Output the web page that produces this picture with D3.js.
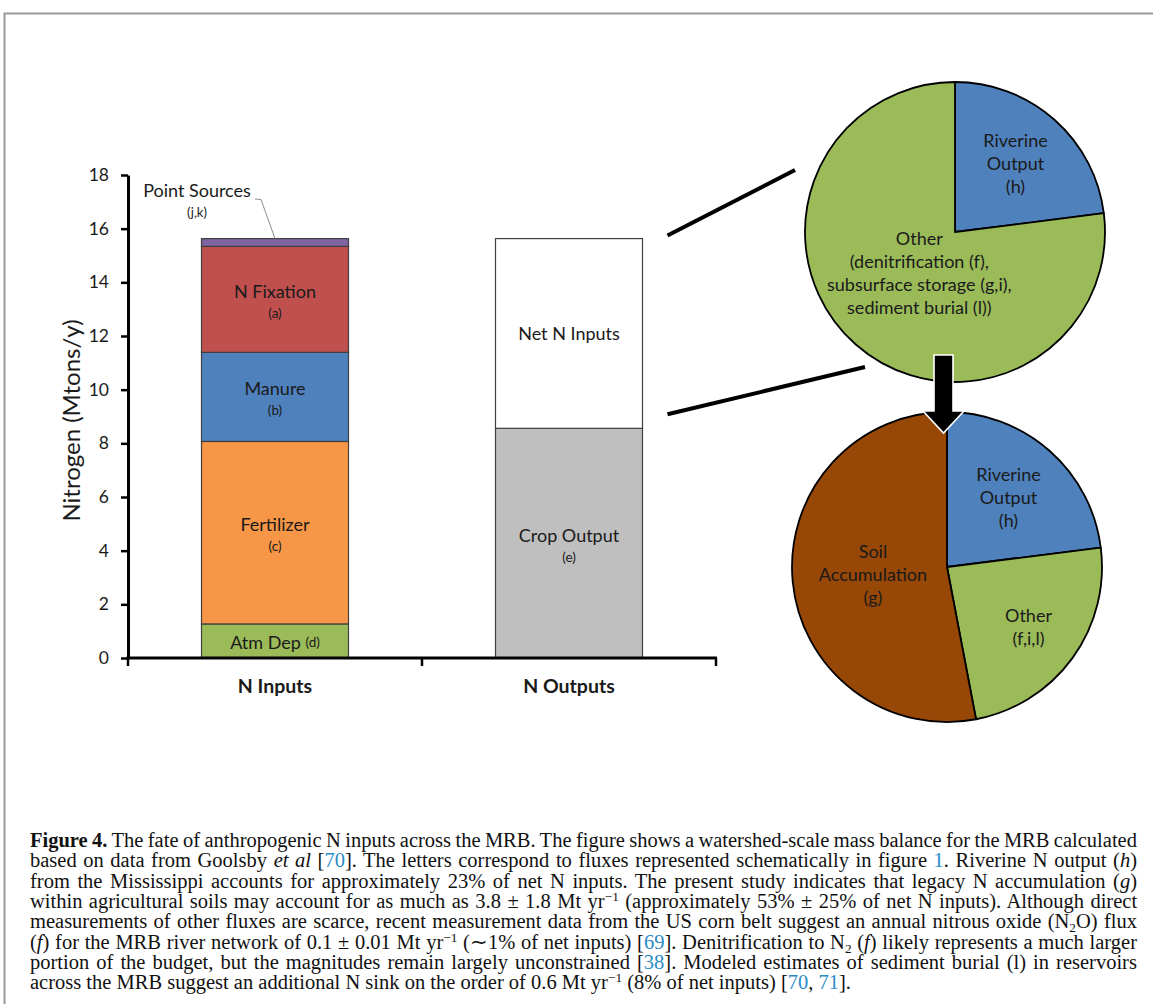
<!DOCTYPE html>
<html>
<head>
<meta charset="utf-8">
<script src="https://cdn.jsdelivr.net/npm/d3@7"></script>
<style>
  body { margin: 0; background: #fff; }
  svg { display: block; }
</style>
</head>
<body>
<svg id="chart" width="1153" height="1004"></svg>
<script>
// ---- data ----
const barCategories = ["N Inputs", "N Outputs"];
const inputNames = ["Atm Dep", "Fertilizer", "Manure", "N Fixation", "Point Sources"];
const inputTags = ["(d)", "(c)", "(b)", "(a)", "(j,k)"];
const inputValues = [1.27, 6.8, 3.32, 3.95, 0.29];
const outputNames = ["Crop Output", "Net N Inputs"];
const outputTags = ["(e)", ""];
const outputValues = [8.56, 7.07];
const yTicks = [0, 2, 4, 6, 8, 10, 12, 14, 16, 18];

const pieTopLabels = [["Riverine", "Output", "(h)"],
                      ["Other", "(denitrification (f),", "subsurface storage (g,i),", "sediment burial (l))"]];
const pieTopValues = [23, 77];
const pieBottomLabels = [["Riverine", "Output", "(h)"], ["Other", "(f,i,l)"], ["Soil", "Accumulation", "(g)"]];
const pieBottomValues = [23, 24, 53];

const caption = [
  "**Figure 4.** The fate of anthropogenic N inputs across the MRB. The figure shows a watershed-scale mass balance for the MRB calculated",
  "based on data from Goolsby *et al* [{70}]. The letters correspond to fluxes represented schematically in figure {1}. Riverine N output (*h*)",
  "from the Mississippi accounts for approximately 23% of net N inputs. The present study indicates that legacy N accumulation (*g*)",
  "within agricultural soils may account for as much as 3.8 \u00b1 1.8 Mt yr^\u22121^ (approximately 53% \u00b1 25% of net N inputs). Although direct",
  "measurements of other fluxes are scarce, recent measurement data from the US corn belt suggest an annual nitrous oxide (N_2_O) flux",
  "(*f*) for the MRB river network of 0.1 \u00b1 0.01 Mt yr^\u22121^ (\u223c1% of net inputs) [{69}]. Denitrification to N_2_ (*f*) likely represents a much larger",
  "portion of the budget, but the magnitudes remain largely unconstrained [{38}]. Modeled estimates of sediment burial (l) in reservoirs",
  "across the MRB suggest an additional N sink on the order of 0.6 Mt yr^\u22121^ (8% of net inputs) [{70}, {71}]."
];

// ---- colours ----
const inputColors = ["#9bbb59", "#f79646", "#4f81bd", "#c0504d", "#8064a2"];
const outputColors = ["#bfbfbf", "#ffffff"];
const pieTopColors = ["#4f81bd", "#9bbb59"];
const pieBottomColors = ["#4f81bd", "#9bbb59", "#974706"];

const svg = d3.select("#chart");
const sans = "Lato, 'Open Sans', sans-serif";
const ink = "#1a1a1a";

// frame of the page
svg.append("path")
  .attr("d", "M4.5,1004 V13.5 H1153")
  .attr("fill", "none").attr("stroke", "#9a9a9a").attr("stroke-width", 2);

// ---- bar chart ----
const y = d3.scaleLinear().domain([0, 18]).range([658, 175]);
const x = d3.scaleBand().domain(barCategories).range([128, 716])
  .paddingInner(0.5).paddingOuter(0.25);

const yAxis = svg.append("g")
  .attr("transform", "translate(128,0)")
  .call(d3.axisLeft(y).tickValues(yTicks).tickSize(7).tickSizeOuter(0).tickPadding(12));
yAxis.select(".domain").attr("stroke", "#000").attr("stroke-width", 3);
yAxis.selectAll(".tick line").attr("stroke", "#000").attr("stroke-width", 2.5);
yAxis.selectAll(".tick text").attr("font-family", sans).attr("font-size", 17.5).attr("fill", ink);

svg.append("text")
  .attr("transform", "translate(70," + y(8.85) + ") rotate(-90)")
  .attr("text-anchor", "middle").attr("dominant-baseline", "central")
  .attr("font-family", sans).attr("font-size", 24).attr("fill", ink)
  .text("Nitrogen (Mtons/y)");

function stackBar(cat, names, tags, values, colors) {
  let base = 0;
  const segs = values.map((v, i) => {
    const s = { name: names[i], tag: tags[i], y0: base, y1: base + v, color: colors[i] };
    base += v;
    return s;
  });
  const g = svg.append("g");
  g.selectAll("rect").data(segs).enter().append("rect")
    .attr("x", x(cat)).attr("width", x.bandwidth())
    .attr("y", d => y(d.y1)).attr("height", d => y(d.y0) - y(d.y1))
    .attr("fill", d => d.color).attr("stroke", "#404040").attr("stroke-width", 1.2);
  return segs;
}

const inSegs = stackBar("N Inputs", inputNames, inputTags, inputValues, inputColors);
const outSegs = stackBar("N Outputs", outputNames, outputTags, outputValues, outputColors);

function segLabels(cat, segs) {
  const cx = x(cat) + x.bandwidth() / 2;
  segs.forEach(d => {
    const mid = y((d.y0 + d.y1) / 2);
    if (d.name === "Point Sources") return;
    if (d.name === "Atm Dep") {
      const t = svg.append("text").attr("x", cx).attr("y", mid + 1)
        .attr("text-anchor", "middle").attr("dominant-baseline", "central")
        .attr("font-family", sans).attr("fill", ink);
      t.append("tspan").attr("font-size", 18).text(d.name + " ");
      t.append("tspan").attr("font-size", 13.5).text(d.tag);
      return;
    }
    const off = d.tag ? -8.5 : 0;
    svg.append("text").attr("x", cx).attr("y", mid + off)
      .attr("text-anchor", "middle").attr("dominant-baseline", "central")
      .attr("font-family", sans).attr("font-size", 18).attr("fill", ink).text(d.name);
    if (d.tag) {
      svg.append("text").attr("x", cx).attr("y", mid + 13.5)
        .attr("text-anchor", "middle").attr("dominant-baseline", "central")
        .attr("font-family", sans).attr("font-size", 13.5).attr("fill", ink).text(d.tag);
    }
  });
}
segLabels("N Inputs", inSegs);
segLabels("N Outputs", outSegs);

// point sources callout
const ps = inSegs[4];
const psX = x("N Inputs") + x.bandwidth() / 2;
svg.append("polyline")
  .attr("points", [[psX - 20, 199], [psX - 14, 199.5], [psX, y(ps.y1)]].map(p => p.join(",")).join(" "))
  .attr("fill", "none").attr("stroke", "#8c8c8c").attr("stroke-width", 1);
svg.append("text").attr("x", psX - 78).attr("y", 190)
  .attr("text-anchor", "middle").attr("dominant-baseline", "central")
  .attr("font-family", sans).attr("font-size", 18).attr("fill", ink).text(ps.name);
svg.append("text").attr("x", psX - 78).attr("y", 212)
  .attr("text-anchor", "middle").attr("dominant-baseline", "central")
  .attr("font-family", sans).attr("font-size", 13).attr("fill", ink).text(ps.tag);

// x axis with ticks at category boundaries
const xr = x.range();
const bounds = [xr[0], xr[0] + x.step(), xr[1]];
svg.append("line").attr("x1", xr[0] - 1.5).attr("x2", xr[1] + 1).attr("y1", y(0)).attr("y2", y(0))
  .attr("stroke", "#000").attr("stroke-width", 3);
svg.selectAll(".xtick").data(bounds).enter().append("line")
  .attr("x1", d => d).attr("x2", d => d).attr("y1", y(0)).attr("y2", y(0) + 8)
  .attr("stroke", "#000").attr("stroke-width", 2.5);
svg.selectAll(".xlab").data(barCategories).enter().append("text")
  .attr("x", d => x(d) + x.bandwidth() / 2).attr("y", 685)
  .attr("text-anchor", "middle").attr("dominant-baseline", "central")
  .attr("font-family", sans).attr("font-size", 19.5).attr("font-weight", "bold").attr("fill", ink)
  .text(d => d);

// ---- pies ----
const pieTop = { cx: 955, cy: 232, r: 150 };
const pieBot = { cx: 947, cy: 567, r: 155 };

function drawPie(p, values, labels, colors, labelFactors) {
  const arcs = d3.pie().sort(null)(values);
  const arc = d3.arc().innerRadius(0).outerRadius(p.r);
  const g = svg.append("g").attr("transform", "translate(" + p.cx + "," + p.cy + ")");
  g.selectAll("path").data(arcs).enter().append("path")
    .attr("d", arc).attr("fill", (d, i) => colors[i])
    .attr("stroke", "#000").attr("stroke-width", 1.8).attr("stroke-linejoin", "round");
  arcs.forEach((a, i) => {
    const rl = p.r * labelFactors[i];
    const c = d3.arc().innerRadius(rl).outerRadius(rl).centroid(a);
    const lines = labels[i];
    const lh = 23;
    lines.forEach((ln, j) => {
      g.append("text")
        .attr("x", c[0]).attr("y", c[1] + (j - (lines.length - 1) / 2) * lh)
        .attr("text-anchor", "middle").attr("dominant-baseline", "central")
        .attr("font-family", sans).attr("font-size", 18).attr("fill", ink).text(ln);
    });
  });
}

// zoom lines from the net inputs bar to the top pie
const outX = x("N Outputs") + x.bandwidth() + 25;
const netTop = y(outSegs[1].y1), netBot = y(outSegs[1].y0);
svg.append("line").attr("x1", outX).attr("y1", netTop - 3)
  .attr("x2", pieTop.cx - 160).attr("y2", pieTop.cy - 62)
  .attr("stroke", "#000").attr("stroke-width", 4);
svg.append("line").attr("x1", outX).attr("y1", netBot - 14)
  .attr("x2", pieTop.cx - 90).attr("y2", pieTop.cy + 135)
  .attr("stroke", "#000").attr("stroke-width", 4);

drawPie(pieTop, pieTopValues, pieTopLabels, pieTopColors, [0.61, 0.36]);
drawPie(pieBot, pieBottomValues, pieBottomLabels, pieBottomColors, [0.6, 0.65, 0.48]);

// block arrow between pies
const ax = 943.5, aTop = pieTop.cy + pieTop.r - 27, aHead = pieBot.cy - pieBot.r - 1, aTip = pieBot.cy - pieBot.r + 21;
svg.append("path")
  .attr("d", [
    "M", ax - 9.5, aTop, "H", ax + 9.5, "V", aHead, "H", ax + 20.5,
    "L", ax, aTip, "L", ax - 20.5, aHead, "H", ax - 9.5, "Z"].join(" "))
  .attr("fill", "#000").attr("stroke", "#fff").attr("stroke-width", 1.6).attr("stroke-linejoin", "miter");

// ---- caption ----
const capX0 = 30, capX1 = 1137, capY0 = 847, capLH = 20.3, capSize = 20.5;
const serif = "'Liberation Serif', 'Times New Roman', serif";
const tokenRe = /(\*\*[^*]+\*\*|\*[^*]+\*|\{[^}]+\}|\^[^^]+\^|_[^_]+_)/;

caption.forEach((line, li) => {
  const t = svg.append("text")
    .attr("x", capX0).attr("y", capY0 + li * capLH)
    .attr("font-family", serif).attr("font-size", capSize).attr("fill", "#111");
  let shift = 0;
  line.split(tokenRe).filter(s => s.length).forEach(part => {
    let txt = part, kind = "n";
    if (part.startsWith("**")) { kind = "b"; txt = part.slice(2, -2); }
    else if (part.startsWith("*")) { kind = "i"; txt = part.slice(1, -1); }
    else if (part.startsWith("{")) { kind = "r"; txt = part.slice(1, -1); }
    else if (part.startsWith("^")) { kind = "sup"; txt = part.slice(1, -1); }
    else if (part.startsWith("_") && part.length > 2) { kind = "sub"; txt = part.slice(1, -1); }
    const s = t.append("tspan").text(txt);
    let target = 0;
    if (kind === "b") s.attr("font-weight", "bold");
    if (kind === "i") s.attr("font-style", "italic");
    if (kind === "r") s.attr("fill", "#2a8bc6");
    if (kind === "sup") { s.attr("font-size", capSize * 0.65); target = -7; }
    if (kind === "sub") { s.attr("font-size", capSize * 0.65); target = 4; }
    if (target !== shift) { s.attr("dy", target - shift); shift = target; }
  });
  // justify all but the last line by spreading the word gaps
  if (li < caption.length - 1) {
    const w = t.node().getComputedTextLength();
    const gaps = (t.text().match(/ /g) || []).length;
    const ws = (capX1 - capX0 - w) / gaps;
    if (ws > -1) {
      t.attr("word-spacing", ws.toFixed(2));
    } else {
      t.attr("textLength", capX1 - capX0).attr("lengthAdjust", "spacingAndGlyphs");
    }
  }
});
</script>
</body>
</html>
